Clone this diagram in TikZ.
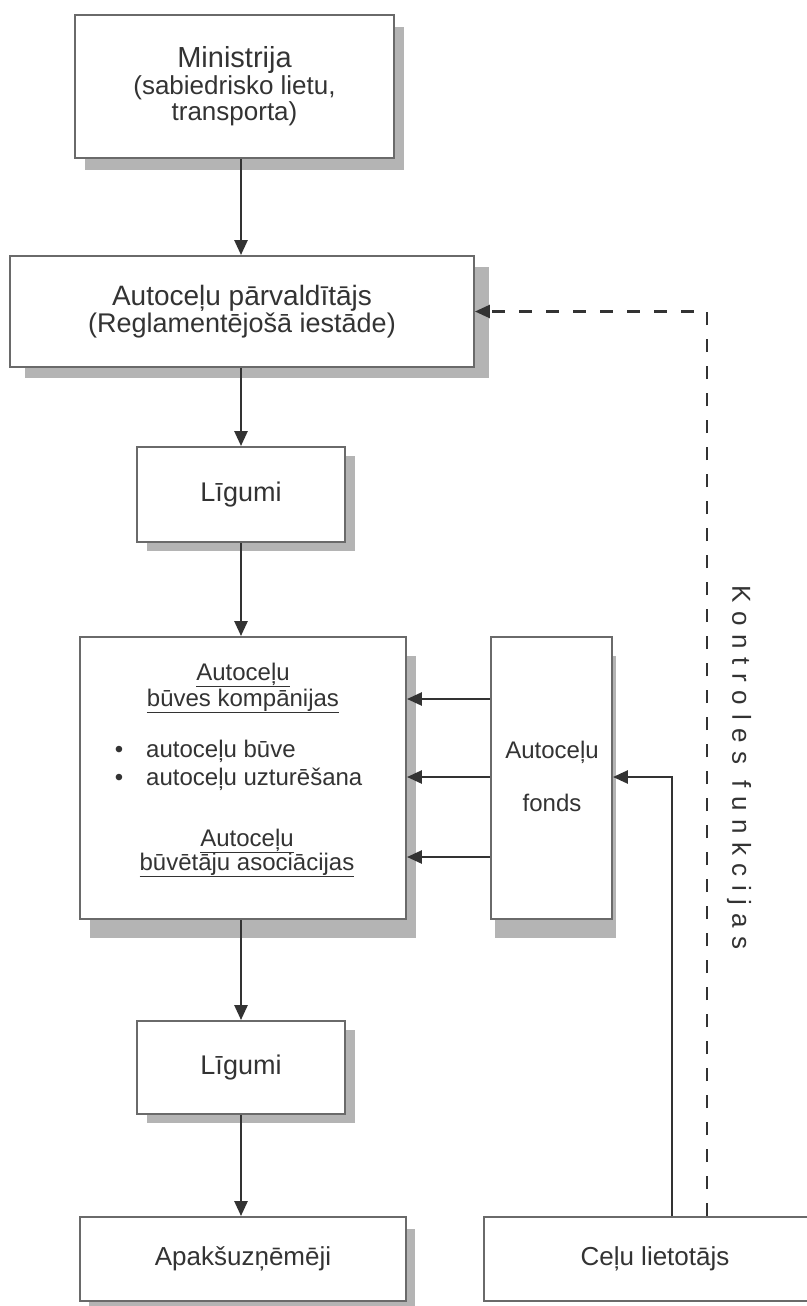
\documentclass[tikz,border=0pt]{standalone}
\usepackage{fontspec}
\setmainfont{Liberation Sans}
\usetikzlibrary{arrows.meta,shadows}
\definecolor{ink}{HTML}{333333}
\definecolor{edge}{HTML}{6A6A6A}
\definecolor{shade}{HTML}{B4B4B4}
\begin{document}
\begin{tikzpicture}[x=1pt,y=-1pt,
  box/.style={draw=edge, line width=1.9pt, fill=white, inner sep=0pt,
    align=center, text=ink},
  shad/.style 2 args={general shadow={fill=shade, shadow xshift=#1pt, shadow yshift=-#2pt}},
  txt/.style={text=ink, inner sep=0pt},
  arr/.style={draw=ink, line width=2.6pt, -{Triangle[length=15pt,width=13pt]}},
  ctl/.style={draw=ink, line width=2.6pt, dash pattern=on 13pt off 14pt,
    -{Triangle[length=15pt,width=13pt]}},
  f24/.style={font=\fontsize{24}{27}\selectfont},
  f26/.style={font=\fontsize{26}{28}\selectfont},
  f27/.style={font=\fontsize{27}{28}\selectfont},
]
\useasboundingbox (0,0) rectangle (806,1306);
\fill[white] (0,0) rectangle (806,1306);

% column of boxes
\node[box, shad={10}{12}, minimum width=319pt, minimum height=143pt, f26]
  (mini) at (234.5,86.5)
  {{\fontsize{29}{30}\selectfont Ministrija}\\[-1pt](sabiedrisko lietu,\\[-2pt]transporta)};
\node[box, shad={15}{11}, minimum width=464pt, minimum height=111pt, f27]
  (parv) at (242,311.5)
  {{\fontsize{28}{28}\selectfont Autoceļu pārvaldītājs}\\[-1pt](Reglamentējošā iestāde)};
\node[box, shad={10}{9}, minimum width=208pt, minimum height=95pt, f27]
  (lig1) at (241,494.5) {Līgumi};
\node[box, shad={10}{19}, minimum width=326pt, minimum height=282pt]
  (big) at (243,778) {};
\node[box, shad={4}{19}, minimum width=121pt, minimum height=282pt]
  (fonds) at (551.5,778) {};
\node[box, shad={10}{9}, minimum width=208pt, minimum height=93pt, f27]
  (lig2) at (241,1067.5) {Līgumi};
\node[box, shad={9}{12}, minimum width=326pt, minimum height=84pt, f26]
  (apak) at (243,1259) {Apakšuzņēmēji};
\node[box, minimum width=342pt, minimum height=84pt, f26]
  (celu) at (655,1259) {Ceļu lietotājs};

% contents of the companies box
\node[txt, f24, anchor=base] (bk1) at (243,680) {\underline{Autoceļu}};
\node[txt, f24, anchor=base] (bk2) at (243,706) {\underline{būves kompānijas}};
\node[txt, f24, anchor=base] (dot1) at (119,757) {\textbullet};
\node[txt, f24, anchor=base west] (it1) at (146,757) {autoceļu būve};
\node[txt, f24, anchor=base] (dot2) at (119,785) {\textbullet};
\node[txt, f24, anchor=base west] (it2) at (146,785) {autoceļu uzturēšana};
\node[txt, f24, anchor=base] (ba1) at (247,846) {\underline{Autoceļu}};
\node[txt, f24, anchor=base] (ba2) at (247,870) {\underline{būvētāju asociācijas}};

% contents of the fund box
\node[txt, f24, anchor=base] (fd1) at (552,758) {Autoceļu};
\node[txt, f24, anchor=base] (fd2) at (552,811) {fonds};

% side label
\node[txt, rotate=-90, text=ink,
  font=\fontsize{26}{28}\selectfont\addfontfeature{LetterSpace=33}]
  (ctrl) at (739,768) {Kontroles funkcijas};

% helper coordinates
\coordinate (axis) at (241,0);
\coordinate (ya) at (0,699);
\coordinate (yb) at (0,777);
\coordinate (yc) at (0,857);
\coordinate (ux) at (672,0);
\coordinate (dx) at (707,0);

% main flow
\draw[arr] (axis |- mini.south) -- (axis |- parv.north);
\draw[arr] (axis |- parv.south) -- (axis |- lig1.north);
\draw[arr] (axis |- lig1.south) -- (axis |- big.north);
\draw[arr] (axis |- big.south) -- (axis |- lig2.north);
\draw[arr] (axis |- lig2.south) -- (axis |- apak.north);

% fund to companies
\draw[arr] (fonds.west |- ya) -- (big.east |- ya);
\draw[arr] (fonds.west |- yb) -- (big.east |- yb);
\draw[arr] (fonds.west |- yc) -- (big.east |- yc);

% road users
\draw[arr] (celu.north -| ux) |- (fonds.east |- yb);
\draw[ctl] (celu.north -| dx) |- (parv.east);
\end{tikzpicture}
\end{document}
